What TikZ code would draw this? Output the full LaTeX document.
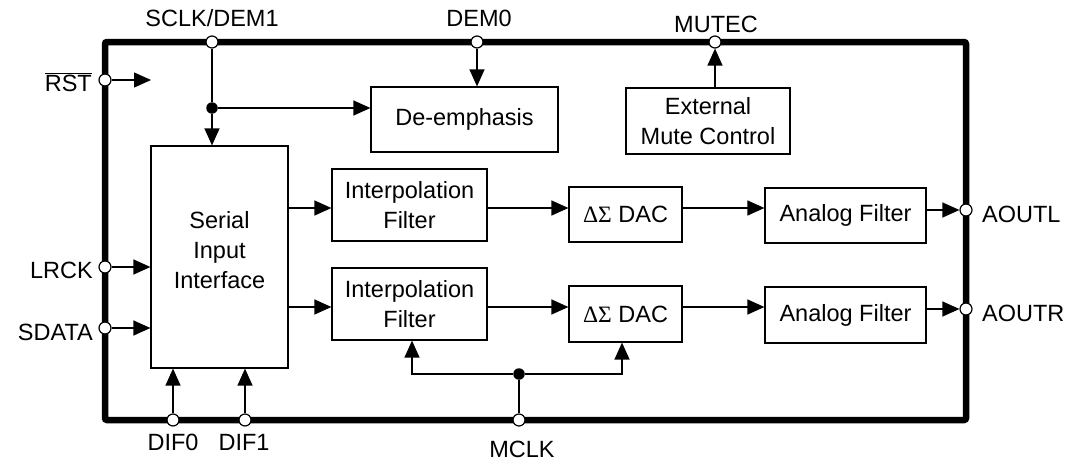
\documentclass[tikz,border=0pt]{standalone}
\usepackage{fontspec}
\setmainfont{Liberation Sans}
\newfontfamily\grk{Liberation Serif}
\usetikzlibrary{arrows.meta}
\begin{document}
\begin{tikzpicture}[x=1pt,y=-1pt,
  every node/.style={font=\fontsize{23.5}{30}\selectfont},
  blk/.style={draw,line width=1.2pt,inner sep=0pt,align=center},
  pin/.style={circle,draw,fill=white,line width=1.2pt,minimum size=12pt,inner sep=0pt},
  jdot/.style={circle,fill=black,minimum size=11.5pt,inner sep=0pt},
  con/.style={line width=1.3pt},
  arr/.style={con,-{Triangle[length=17pt,width=15pt]}},
  lbl/.style={inner sep=0pt}]
\useasboundingbox (0,0) rectangle (1075,463);
% chip outline
\node[draw,line width=6.5pt,rounded corners=2pt,minimum width=861pt,minimum height=378pt,inner sep=0pt] (chip) at (535.5,231) {};
% blocks
\node[blk,minimum width=137pt,minimum height=222pt] (ser) at (219.5,257) {};
\node[lbl,align=center] (tSer) at (219.5,250) {Serial\\Input\\Interface};
\node[blk,minimum width=187pt,minimum height=65pt] (dem) at (464.5,119.5) {De-emphasis};
\node[blk,minimum width=164pt,minimum height=66pt] (mute) at (708,121) {External\\Mute Control};
\node[blk,minimum width=155pt,minimum height=72pt] (i1) at (409.5,205) {Interpolation\\Filter};
\node[blk,minimum width=155pt,minimum height=72pt] (i2) at (409.5,304) {Interpolation\\Filter};
\node[blk,minimum width=113pt,minimum height=55pt] (d1) at (625.5,214.5) {{\grk ΔΣ} DAC};
\node[blk,minimum width=113pt,minimum height=56pt] (d2) at (625.5,314) {{\grk ΔΣ} DAC};
\node[blk,minimum width=161pt,minimum height=55pt] (a1) at (845.5,215.5) {Analog Filter};
\node[blk,minimum width=161pt,minimum height=56pt] (a2) at (845.5,315) {Analog Filter};
% pins
\node[pin] (pSCLK) at (212,42) {};
\node[pin] (pDEM0) at (477,42) {};
\node[pin] (pMUTEC) at (715,42) {};
\node[pin] (pRST) at (105,80) {};
\node[pin] (pLRCK) at (105,267) {};
\node[pin] (pSDATA) at (105,328) {};
\node[pin] (pDIF0) at (173,420) {};
\node[pin] (pDIF1) at (245,420) {};
\node[pin] (pMCLK) at (519,420) {};
\node[pin] (pAOUTL) at (966,210) {};
\node[pin] (pAOUTR) at (966,309) {};
% junctions and helper coordinates
\node[jdot] (jS) at (212,108) {};
\node[jdot] (jM) at (519,374) {};
\coordinate (cRST) at (151,80);
\coordinate (cL) at (412,374);
\coordinate (cR) at (622,374);
\coordinate (row1) at (0,208);
\coordinate (row2) at (0,307);
% labels
\node[lbl,anchor=base] (lSCLK) at (212,26) {SCLK/DEM1};
\node[lbl,anchor=base] (lDEM0) at (479,26) {DEM0};
\node[lbl,anchor=base] (lMUTEC) at (716,32) {MUTEC};
\node[lbl,anchor=base east] (lRST) at (92,91) {$\overline{\mbox{RST}}$};
\node[lbl,anchor=base east] (lLRCK) at (93,278) {LRCK};
\node[lbl,anchor=base east] (lSDATA) at (93,340) {SDATA};
\node[lbl,anchor=base west] (lAOUTL) at (982,222) {AOUTL};
\node[lbl,anchor=base west] (lAOUTR) at (982,321) {AOUTR};
\node[lbl,anchor=base] (lDIF0) at (173,450) {DIF0};
\node[lbl,anchor=base] (lDIF1) at (244,450) {DIF1};
\node[lbl,anchor=base] (lMCLK) at (522,457) {MCLK};
% connectors
\draw[con] (pSCLK) -- (jS);
\draw[arr] (jS) -- (jS |- ser.north);
\draw[arr] (jS) -- (jS -| dem.west);
\draw[arr] (pDEM0) -- (pDEM0 |- dem.north);
\draw[arr] (mute.north -| pMUTEC) -- (pMUTEC);
\draw[arr] (pRST) -- (cRST);
\draw[arr] (pLRCK) -- (pLRCK -| ser.west);
\draw[arr] (pSDATA) -- (pSDATA -| ser.west);
\draw[arr] (pDIF0) -- (pDIF0 |- ser.south);
\draw[arr] (pDIF1) -- (pDIF1 |- ser.south);
\draw[arr] (ser.east |- row1) -- (i1.west |- row1);
\draw[arr] (ser.east |- row2) -- (i2.west |- row2);
\draw[arr] (i1.east |- row1) -- (d1.west |- row1);
\draw[arr] (i2.east |- row2) -- (d2.west |- row2);
\draw[arr] (d1.east |- row1) -- (a1.west |- row1);
\draw[arr] (d2.east |- row2) -- (a2.west |- row2);
\draw[arr] (a1.east |- pAOUTL) -- (pAOUTL);
\draw[arr] (a2.east |- pAOUTR) -- (pAOUTR);
\draw[con] (pMCLK) -- (jM);
\draw[arr] (jM) -- (cL) -- (cL |- i2.south);
\draw[arr] (jM) -- (cR) -- (cR |- d2.south);
\end{tikzpicture}
\end{document}
